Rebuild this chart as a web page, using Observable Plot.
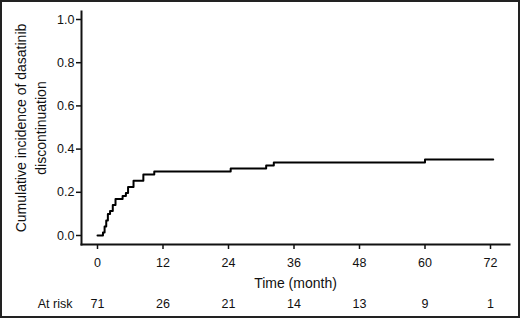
<!DOCTYPE html>
<html>
<head>
<meta charset="utf-8">
<script src="https://cdn.jsdelivr.net/npm/d3@7"></script>
<script src="https://cdn.jsdelivr.net/npm/@observablehq/plot@0.6"></script>
<style>
  html, body { margin: 0; padding: 0; background: #fff; }
  #wrap { position: relative; width: 520px; height: 318px; }
  #border { position: absolute; left: 0; top: 0; width: 520px; height: 318px; box-sizing: border-box; border: 2px solid #222; pointer-events: none; }
  svg { display: block; }
</style>
</head>
<body>
<div id="wrap"><div id="border"></div></div>
<script>
// Step times (months) and cumulative incidence values
const stepTimes  = [0, 1.0, 1.3, 1.6, 1.9, 2.3, 2.8, 3.3, 4.6, 5.2, 5.6, 6.6, 8.4, 10.4, 24.4, 30.9, 32.3, 60.0, 72.5];
const stepValues = [0, 0.014, 0.042, 0.070, 0.099, 0.113, 0.141, 0.169, 0.183, 0.197, 0.225, 0.254, 0.282, 0.296, 0.310, 0.324, 0.338, 0.352, 0.352];

const xTicks = [0, 12, 24, 36, 48, 60, 72];
const yTicks = [0, 0.2, 0.4, 0.6, 0.8, 1.0];
const atRiskTimes  = [0, 12, 24, 36, 48, 60, 72];
const atRiskCounts = [71, 26, 21, 14, 13, 9, 1];

const curve = stepTimes.map((t, i) => ({t, v: stepValues[i]}));
const risk = atRiskTimes.map((t, i) => ({t, n: atRiskCounts[i]}));

const font = "'Liberation Sans', Arial, Helvetica, sans-serif";

const chart = Plot.plot({
  width: 520,
  height: 318,
  marginLeft: 81,
  marginRight: 11,
  marginTop: 11,
  marginBottom: 74,
  style: {fontFamily: font, fontSize: "12.5px", color: "#111", background: "transparent"},
  x: {domain: [0, 72], range: [97, 490]},
  y: {domain: [0, 1], range: [235, 19]},
  marks: [
    Plot.frame({anchor: "left", stroke: "#111", strokeWidth: 2}),
    Plot.frame({anchor: "bottom", stroke: "#111", strokeWidth: 2}),
    Plot.axisX({ticks: xTicks, tickSize: 5, tickPadding: 9, label: null, strokeWidth: 1.5, fontSize: 12.5}),
    Plot.axisY({ticks: yTicks, tickSize: 5, tickPadding: 2, tickFormat: d => d.toFixed(1), label: null, strokeWidth: 1.5, fontSize: 12.5}),
    Plot.line(curve, {x: "t", y: "v", curve: "step-after", stroke: "#000", strokeWidth: 2}),
    Plot.text(["Time (month)"], {frameAnchor: "bottom", lineAnchor: "middle", dy: 39, fontSize: 14, text: d => d}),
    Plot.text(risk, {x: "t", text: d => String(d.n), frameAnchor: "bottom", lineAnchor: "middle", dy: 59, fontSize: 12.5}),
    Plot.text(["At risk"], {frameAnchor: "bottom-left", lineAnchor: "middle", dx: -9, dy: 59, textAnchor: "end", fontSize: 12.5, text: d => d}),
    Plot.text(["Cumulative incidence of dasatinib\ndiscontinuation"], {frameAnchor: "left", textAnchor: "middle", lineAnchor: "middle", dx: -52, rotate: -90, fontSize: 14, lineHeight: 1.43, text: d => d})
  ]
});
document.getElementById("wrap").insertBefore(chart, document.getElementById("border"));
</script>
</body>
</html>
